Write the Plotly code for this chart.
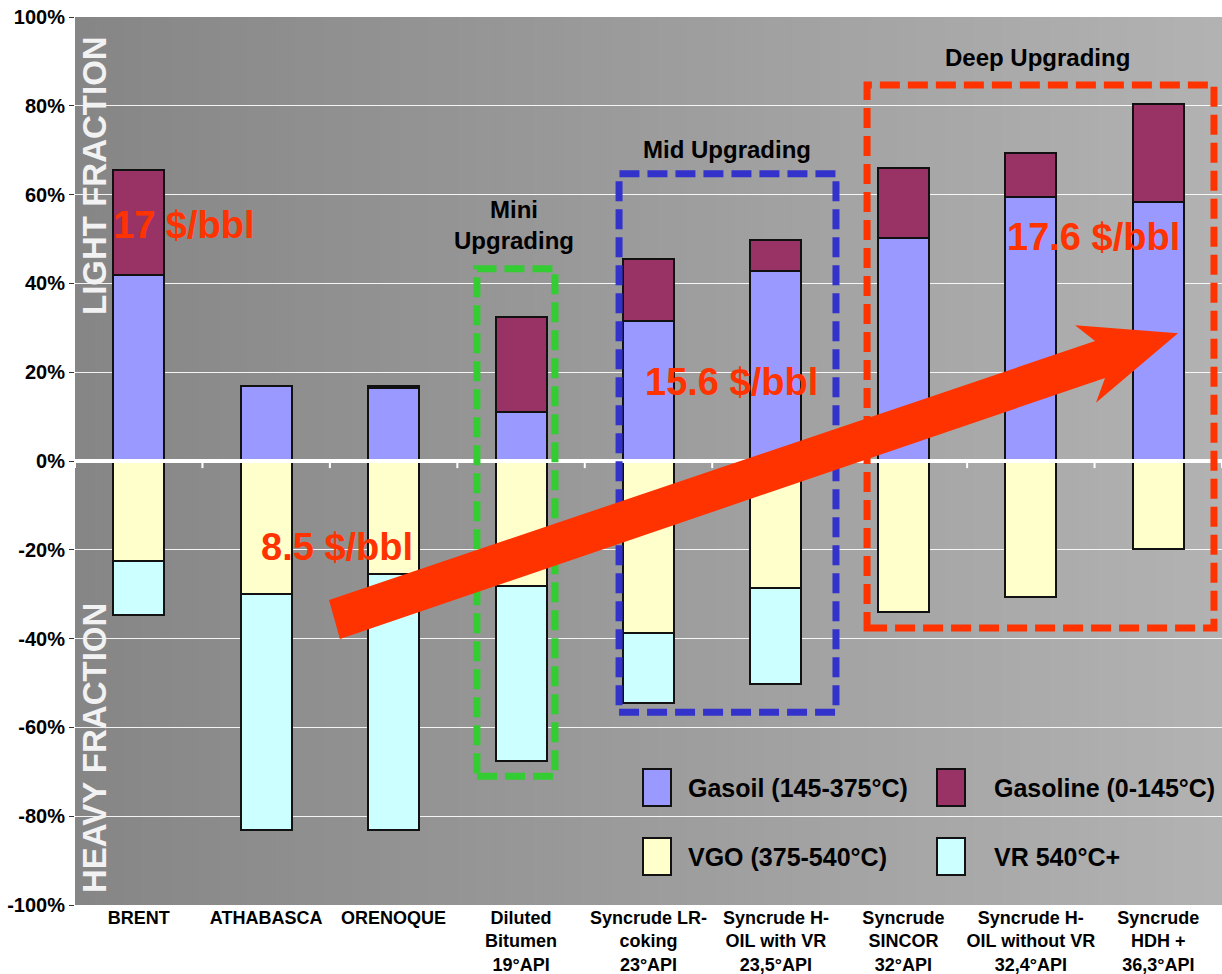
import plotly.graph_objects as go

# ---------------- data ----------------
categories = [
    "BRENT", "ATHABASCA", "ORENOQUE",
    "Diluted<br>Bitumen<br>19°API",
    "Syncrude LR-<br>coking<br>23°API",
    "Syncrude H-<br>OIL with VR<br>23,5°API",
    "Syncrude<br>SINCOR<br>32°API",
    "Syncrude H-<br>OIL without VR<br>32,4°API",
    "Syncrude<br>HDH +<br>36,3°API",
]
gasoil = [42.0, 17.0, 16.5, 11.0, 31.5, 42.7, 50.3, 59.5, 58.3]
gasoline = [23.5, None, 0.5, 21.5, 14.0, 7.1, 15.7, 9.9, 22.0]
vgo = [-22.5, -30.0, -25.5, -28.2, -38.7, -28.5, -33.9, -30.6, -19.8]
vr = [-12.2, -53.2, -57.5, -39.4, -15.8, -21.8, None, None, None]

series_names = ["Gasoil (145-375°C)", "Gasoline (0-145°C)", "VGO (375-540°C)", "VR 540°C+"]
series_colors = ["#9999FF", "#993366", "#FFFFCC", "#CCFFFF"]

y_tick_vals = [-100, -80, -60, -40, -20, 0, 20, 40, 60, 80, 100]
y_tick_text = [f"{v}%" for v in y_tick_vals]

FONT = "Liberation Sans, Arial, sans-serif"
RED = "#FF3300"

x_idx = list(range(len(categories)))

fig = go.Figure()
for name, vals, col in zip(series_names, [gasoil, gasoline, vgo, vr], series_colors):
    fig.add_trace(go.Bar(
        x=x_idx, y=vals, name=name, width=0.4,
        marker=dict(color=col, line=dict(color="#111111", width=2)),
        showlegend=False,
    ))

shapes = []
# background gradient (dark grey left -> light grey right)
N = 120
for i in range(N):
    t = i / (N - 1)
    g = int(round(134 + 44 * t))
    c = f"rgb({g},{g},{g})"
    shapes.append(dict(type="rect", xref="paper", yref="paper",
                       x0=i / N, x1=(i + 1) / N + 0.002, y0=0, y1=1,
                       fillcolor=c, line=dict(width=0), layer="below"))

# zero line above bars + small ticks at category boundaries
shapes.append(dict(type="line", xref="paper", yref="y", x0=0, x1=1, y0=0, y1=0,
                   line=dict(color="white", width=4), layer="above"))
for b in range(len(categories) + 1):
    shapes.append(dict(type="line", xref="x", yref="y", x0=b - 0.5, x1=b - 0.5,
                       y0=0, y1=-1.6, line=dict(color="white", width=2), layer="above"))

# dashed group boxes
dash = "20px,8px"
boxes = [
    (2.654, 3.266, -71.0, 43.3, "#33CC33"),
    (3.769, 5.471, -56.6, 64.7, "#3333CC"),
    (5.715, 8.437, -37.6, 84.7, RED),
]
for x0, x1, y0, y1, col in boxes:
    shapes.append(dict(type="rect", xref="x", yref="y", x0=x0, x1=x1, y0=y0, y1=y1,
                       line=dict(color=col, width=7, dash=dash),
                       fillcolor="rgba(0,0,0,0)", layer="above"))

# big red arrow
arrow_pts = [(1.493, -31.3), (7.504, 27.0), (7.347, 30.6), (8.155, 28.8),
             (7.511, 13.1), (7.582, 18.7), (1.579, -40.1)]
path = "M " + " L ".join(f"{x},{y}" for x, y in arrow_pts) + " Z"
shapes.append(dict(type="path", xref="x", yref="y", path=path,
                   fillcolor=RED, line=dict(color=RED, width=0), layer="above"))

# manual legend swatches (paper coords)
def px_x(p):
    return (p - 75) / 1147.0

def px_y(p):
    return (905 - p) / 888.0

legend_items = [
    (643, 769, 686, 788, 0),
    (937, 769, 992, 788, 1),
    (643, 838, 686, 857, 2),
    (937, 838, 992, 857, 3),
]
annotations = []
for sx, sy, tx, ty, k in legend_items:
    shapes.append(dict(type="rect", xref="paper", yref="paper",
                       x0=px_x(sx), x1=px_x(sx + 28), y0=px_y(sy + 37), y1=px_y(sy),
                       fillcolor=series_colors[k], line=dict(color="#111111", width=2),
                       layer="above"))
    annotations.append(dict(xref="paper", yref="paper", x=px_x(tx), y=px_y(ty),
                            text=series_names[k], showarrow=False, xanchor="left",
                            yanchor="middle",
                            font=dict(family=FONT, size=25, color="black", weight="bold")))

# price labels
price_labels = [("17 $/bbl", 0.355, 53.2), ("8.5 $/bbl", 1.556, -19.4),
                ("15.6 $/bbl", 4.648, 17.8), ("17.6 $/bbl", 7.488, 50.5)]
for txt, x, y in price_labels:
    annotations.append(dict(x=x, y=y, xref="x", yref="y", text=txt, showarrow=False,
                            font=dict(family=FONT, size=38, color=RED, weight="bold")))

group_labels = [("Mini<br>Upgrading", 2.945, 53.2), ("Mid Upgrading", 4.616, 70.1),
                ("Deep Upgrading", 7.056, 90.8)]
for txt, x, y in group_labels:
    annotations.append(dict(x=x, y=y, xref="x", yref="y", text=txt, showarrow=False,
                            font=dict(family=FONT, size=24, color="black", weight="bold")))

for txt, y in [("LIGHT FRACTION", px_y(176)), ("HEAVY FRACTION", px_y(748))]:
    annotations.append(dict(x=px_x(94), y=y, xref="paper", yref="paper", text=txt,
                            showarrow=False, textangle=-90, xanchor="center",
                            yanchor="middle",
                            font=dict(family=FONT, size=33, color="#F2F2F2", weight="bold")))

fig.update_layout(
    width=1222, height=974, autosize=False,
    margin=dict(l=75, r=0, t=17, b=69, pad=0),
    paper_bgcolor="white", plot_bgcolor="#9a9a9a",
    barmode="relative", bargap=0,
    shapes=shapes, annotations=annotations,
    xaxis=dict(range=[-0.5, 8.5], tickvals=x_idx, ticktext=categories,
               showgrid=False, zeroline=False, showline=False, ticks="",
               tickfont=dict(family=FONT, size=18, color="black", weight="bold"),
               fixedrange=True),
    yaxis=dict(range=[-100, 100], tickvals=y_tick_vals, ticktext=y_tick_text,
               showgrid=True, gridcolor="rgba(255,255,255,0.9)", gridwidth=1,
               zeroline=False, showline=False, ticks="outside", ticklen=5,
               tickcolor="#333333", tickwidth=1,
               tickfont=dict(family=FONT, size=20, color="black", weight="bold"),
               fixedrange=True),
)

fig.write_html("out.html")
